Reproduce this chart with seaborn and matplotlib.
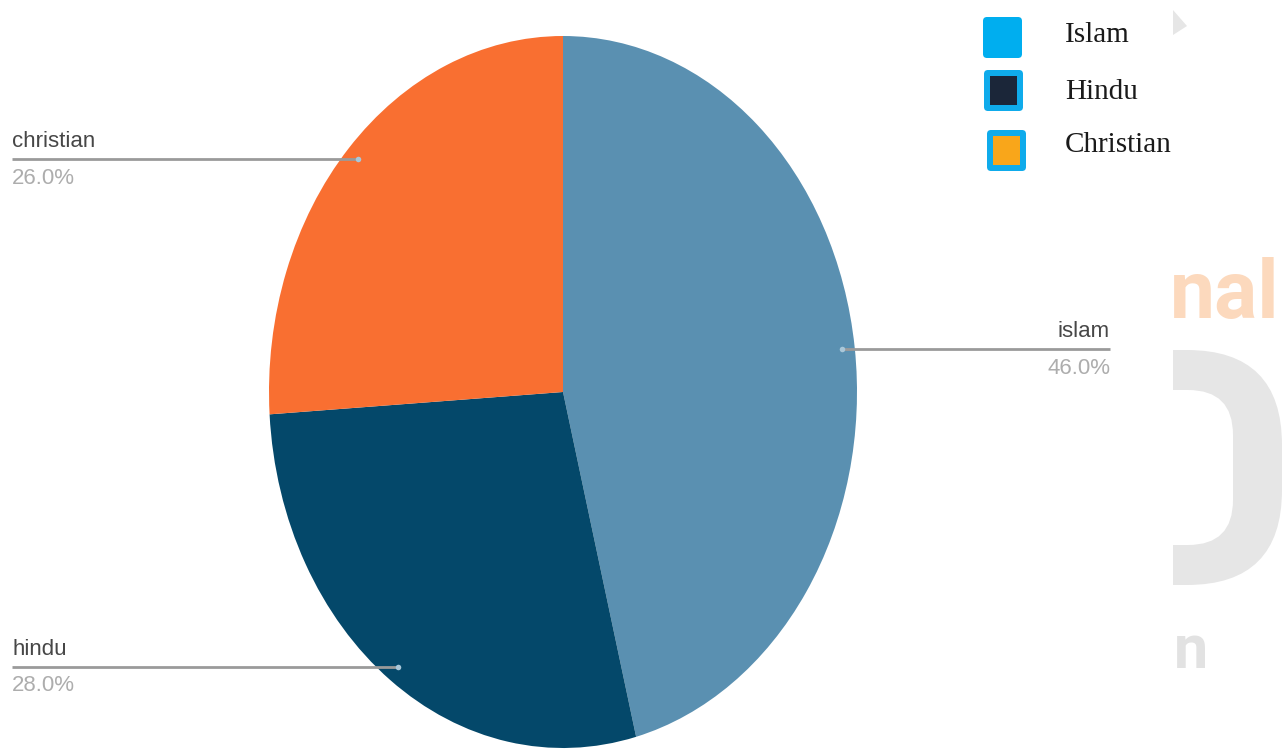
import numpy as np
import matplotlib
matplotlib.use("Agg")
import matplotlib.pyplot as plt
from matplotlib.patches import FancyBboxPatch, Rectangle, Polygon
import seaborn as sns

# Religion shares (percent)
religions = ["islam", "hindu", "christian"]
shares = [46.0, 28.0, 26.0]
slice_colors = ["#5a90b1", "#04486a", "#f96f31"]

# Legend entries (top right key)
legend_labels = ["Islam", "Hindu", "Christian"]
legend_fill = ["#00aeef", "#1b2639", "#f9a61a"]
legend_edge = ["#00aeef", "#0fabeb", "#0fabeb"]

sns.set_theme(style="white")
plt.rcParams["font.family"] = ["Liberation Sans", "DejaVu Sans"]

W, H = 1282, 749
fig = plt.figure(figsize=(W / 100, H / 100), dpi=100)
fig.patch.set_facecolor("white")

# Background layer in pixel coordinates (decorative mark on the right)
bg = fig.add_axes([0, 0, 1, 1], zorder=0)
bg.set_xlim(0, W)
bg.set_ylim(H, 0)
bg.axis("off")
bg.add_patch(FancyBboxPatch((1060, 350), 222, 235, boxstyle="round,pad=0,rounding_size=95",
                            fc="#e6e6e6", ec="none"))
bg.add_patch(FancyBboxPatch((1040, 390), 193, 155, boxstyle="round,pad=0,rounding_size=45",
                            fc="white", ec="none"))
bg.add_patch(Rectangle((1000, 330), 173, 280, fc="white", ec="none"))
bg.add_patch(Rectangle((1282, 300), 30, 320, fc="white", ec="none"))
bg.text(1170, 318, "nal", fontsize=58, fontweight="bold", color="#fcd9bd",
        family=["Roboto", "DejaVu Sans"], ha="left", va="baseline")
bg.text(1174, 668, "n", fontsize=44, fontweight="bold", color="#e2e2e2",
        family=["Roboto", "DejaVu Sans"], ha="left", va="baseline")
bg.add_patch(Polygon([(1173, 10), (1187, 26), (1173, 35)], closed=True, fc="#e6e6e6", ec="none"))

# Pie layer: unit pie stretched to an ellipse
cx, cy, rx, ry = 563, 392, 294, 356
ax = fig.add_axes([0, 0, 1, 1], zorder=1)
ax.patch.set_alpha(0)
wedges, _ = ax.pie(shares, colors=slice_colors, startangle=90, counterclock=False,
                   radius=1, center=(0, 0), wedgeprops=dict(linewidth=0))
ax.set_aspect("auto")
ax.set_xlim(-cx / rx, (W - cx) / rx)
ax.set_ylim(-(H - cy) / ry, cy / ry)
ax.axis("off")

left_x = (12 - cx) / rx
right_x = (1110 - cx) / rx
for wedge, name, val in zip(wedges, religions, shares):
    mid = np.deg2rad((wedge.theta1 + wedge.theta2) / 2)
    px, py = 0.955 * np.cos(mid), 0.955 * np.sin(mid)
    if np.cos(mid) >= 0:
        tx, ha = right_x, "right"
    else:
        tx, ha = left_x, "left"
    ax.plot([px, tx], [py, py], color="#9a9a9a", lw=2, solid_capstyle="butt", zorder=3)
    ax.plot([px], [py], marker="o", ms=4, color="#a9c7d9", mec="none", zorder=4)
    ax.annotate(name, (tx, py), xytext=(0, 5), textcoords="offset points",
                ha=ha, va="bottom", fontsize=16, color="#474747")
    ax.annotate(f"{val:.1f}%", (tx, py), xytext=(0, -6), textcoords="offset points",
                ha=ha, va="top", fontsize=16, color="#adadad")

# Key layer in pixel coordinates
key = fig.add_axes([0, 0, 1, 1], zorder=2)
key.patch.set_alpha(0)
key.set_xlim(0, W)
key.set_ylim(H, 0)
key.axis("off")
box_x = [983, 984, 987]
box_y = [17, 70, 130]
text_base = [42, 99, 152]
for i, lab in enumerate(legend_labels):
    x0, y0 = box_x[i], box_y[i]
    key.add_patch(FancyBboxPatch((x0, y0), 39, 41, boxstyle="round,pad=0,rounding_size=4",
                                 fc=legend_edge[i], ec="none"))
    if legend_fill[i] != legend_edge[i]:
        key.add_patch(Rectangle((x0 + 6, y0 + 6), 27, 29, fc=legend_fill[i], ec="none"))
    key.text(1065, text_base[i], lab, fontsize=21, color="#1a1a1a",
             family=["Liberation Serif", "DejaVu Serif"], ha="left", va="baseline")

fig.savefig("out.png", dpi=100, facecolor="white")
